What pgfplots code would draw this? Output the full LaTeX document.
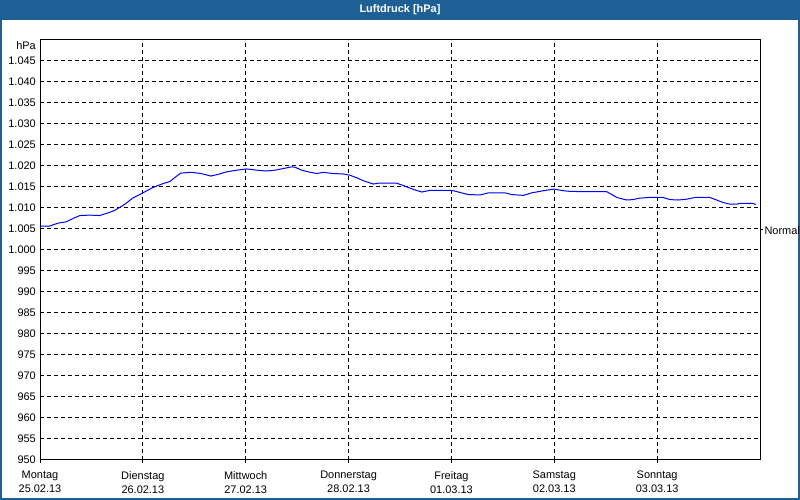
\documentclass[border=0pt]{standalone}
\usepackage{fontspec}
\setmainfont{Liberation Sans}
\usepackage{pgfplots}
\pgfplotsset{compat=1.18}
\definecolor{barblue}{RGB}{30,96,149}
\definecolor{lineblue}{RGB}{0,0,255}

\pgfplotstableread{
h p
0 1005.7
2.3 1005.7
4.2 1006.4
6.1 1006.7
7.7 1007.5
9.3 1008.2
11.6 1008.3
13.9 1008.2
15.5 1008.7
17.4 1009.4
19.8 1010.9
21.7 1012.4
24.0 1013.6
26.4 1014.9
28.7 1015.8
30.3 1016.3
31.4 1017.2
32.8 1018.3
35.3 1018.5
37.6 1018.2
39.9 1017.6
41.9 1018.1
43.5 1018.6
45.9 1019.0
48.2 1019.3
50.6 1019.0
52.9 1018.8
54.8 1019.0
56.8 1019.4
58.7 1019.8
59.5 1019.7
61.1 1019.0
62.6 1018.6
64.6 1018.2
66.1 1018.5
68.4 1018.2
70.8 1018.1
72.3 1017.8
73.9 1017.2
75.4 1016.5
77.8 1015.7
78.9 1015.9
83.2 1015.9
84.4 1015.5
85.9 1014.9
87.5 1014.3
89.1 1013.8
91.0 1014.2
96.1 1014.2
98.0 1013.7
99.9 1013.2
102.7 1013.1
104.6 1013.6
108.5 1013.6
110.1 1013.2
112.8 1013.0
114.7 1013.6
117.4 1014.1
119.9 1014.5
122.9 1014.0
126.0 1013.9
132.2 1013.9
133.8 1013.0
134.6 1012.5
136.9 1011.9
138.4 1012.0
139.6 1012.3
141.9 1012.5
145.4 1012.5
147.0 1012.0
148.9 1011.9
150.9 1012.1
152.8 1012.5
156.3 1012.5
157.9 1011.9
159.4 1011.3
161.0 1010.9
162.6 1010.9
163.3 1011.1
166.4 1011.1
167.0 1010.8
}\druck

\begin{document}
\begin{tikzpicture}[x=1bp,y=1bp]
\path[use as bounding box] (0,0) rectangle (800,500);
\fill[white] (0,0) rectangle (800,500);
\fill[barblue] (0,480) rectangle (800,500);
\draw[barblue, line width=2bp] (1,1) rectangle (799,499);
\node[text=white, font=\fontsize{11}{13}\selectfont\bfseries] at (400,490) {Luftdruck [hPa]};
\begin{axis}[
  at={(40bp,40bp)}, anchor=south west,
  scale only axis, width=720bp, height=420bp,
  xmin=0, xmax=168, ymin=950, ymax=1050,
  xtick={0,24,...,144},
  xticklabels={Montag\\25.02.13, Dienstag\\26.02.13, Mittwoch\\27.02.13,
    Donnerstag\\28.02.13, Freitag\\01.03.13, Samstag\\02.03.13, Sonntag\\03.03.13},
  ytick={950,955,...,1045},
  grid=major,
  major grid style={black, line width=1bp, dash pattern=on 4bp off 3bp},
  axis line style={black, line width=1bp},
  tick align=outside, major tick length=3bp,
  xtick pos=bottom, ytick pos=left,
  xtick style={black, line width=1bp},
  ytick style={draw=none},
  tick label style={font=\fontsize{11}{14}\selectfont},
  xticklabel style={align=center, anchor=north, inner sep=0pt, yshift=-8bp},
  yticklabel style={anchor=east, inner sep=0pt, xshift=-1bp},
  /pgf/number format/.cd, 1000 sep={.}, assume math mode=true,
  /pgfplots/.cd,
  clip=false,
]
\addplot[lineblue, line width=1bp, mark=none] table[x=h, y=p] {\druck};
\draw[black, line width=1bp] (axis cs:168,1004.8) -- ++(3bp,0bp)
  node[right, inner sep=1bp, font=\fontsize{11}{14}\selectfont, yshift=-1bp] {Normal};
\node[anchor=east, inner sep=0pt, font=\fontsize{11}{14}\selectfont]
  at (rel axis cs:0,1) [xshift=-4bp, yshift=-5.5bp] {hPa};
\end{axis}
\end{tikzpicture}
\end{document}
